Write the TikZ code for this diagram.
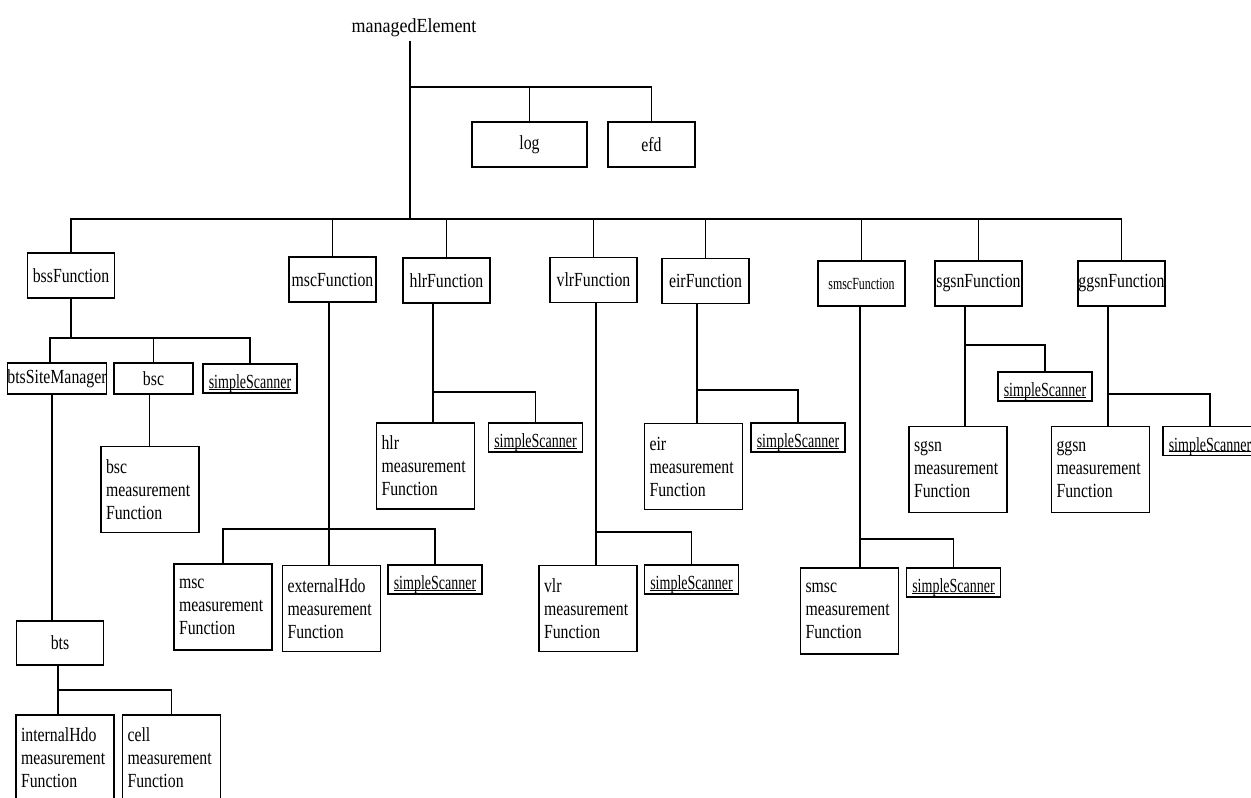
\documentclass[tikz,border=0pt]{standalone}
\usepackage{fontspec}
\setmainfont{Liberation Serif}
\newfontfamily\rootfont{Liberation Serif}[FakeStretch=0.9]
\newfontfamily\boxfont{Liberation Serif}[FakeStretch=0.79]
\newfontfamily\scanfont{Liberation Serif}[FakeStretch=0.70]
\newcommand\scanlabel{\setbox0\hbox{\scanfont simpleScanner}\rlap{\rule[-1pt]{\wd0}{1pt}}\box0}

\tikzset{
  fnbox/.style={draw, inner sep=0pt, minimum width=87pt, minimum height=45pt,
    font=\boxfont\fontsize{20}{23}\selectfont},
  measbox/.style={draw, inner xsep=5pt, inner ysep=0pt, text width=88pt, align=left,
    minimum height=86pt, font=\boxfont\fontsize{20}{23}\selectfont},
  scanbox/.style={draw, inner xsep=1pt, inner ysep=2pt, minimum width=94pt,
    text height=22.5pt, text depth=2.5pt, font=\fontsize{20}{23}\selectfont}
}

\begin{document}
\begin{tikzpicture}[x=1pt,y=-1pt,line width=1.8pt]
  \useasboundingbox (0,0) rectangle (1251,798);

  % root and its own children
  \node[font=\rootfont\fontsize{20}{23}\selectfont, anchor=base] (me) at (414,32) {managedElement};
  \node[fnbox, minimum width=115pt] (log) at (529.5,144.5) {log};
  \node[fnbox] (efd) at (651.5,144.5) {efd};

  % functions
  \node[fnbox] (bssF) at (71,275.5) {bssFunction};
  \node[fnbox] (mscF) at (332.5,279.5) {mscFunction};
  \node[fnbox] (hlrF) at (446.5,280.5) {hlrFunction};
  \node[fnbox] (vlrF) at (593.5,280) {vlrFunction};
  \node[fnbox] (eirF) at (705.5,281) {eirFunction};
  \node[fnbox, font=\scanfont\fontsize{17}{20}\selectfont] (smscF) at (861.5,283.5) {smscFunction};
  \node[fnbox] (sgsnF) at (978.5,283.5) {sgsnFunction};
  \node[fnbox] (ggsnF) at (1121.5,283.5) {ggsnFunction};

  % bss subtree
  \node[fnbox, minimum width=96pt, minimum height=31pt] (bsm) at (57,378.5) {btsSiteManager};
  \node[fnbox, minimum width=79pt, minimum height=31pt] (bssc) at (153.5,378.5) {bsc};
  \node[scanbox] (bssscan) at (250,378.5) {\scanlabel};
  \node[measbox] (bscmeas) at (150,489.5) {bsc\\measurement\\Function};
  \node[fnbox, minimum height=44pt] (bts) at (60,643) {bts};
  \node[measbox] (ihdo) at (65,758) {internalHdo\\measurement\\Function};
  \node[measbox] (cell) at (171.5,758) {cell\\measurement\\Function};

  % msc subtree
  \node[measbox] (mscmeas) at (223,607) {msc\\measurement\\Function};
  \node[measbox] (exthdo) at (331.5,608.5) {externalHdo\\measurement\\Function};
  \node[scanbox] (mscscan) at (435,579.5) {\scanlabel};

  % hlr, vlr, eir
  \node[measbox] (hlrmeas) at (425.5,466) {hlr\\measurement\\Function};
  \node[scanbox] (hlrscan) at (535.5,437.5) {\scanlabel};
  \node[measbox] (vlrmeas) at (588,608.5) {vlr\\measurement\\Function};
  \node[scanbox] (vlrscan) at (691.5,579.5) {\scanlabel};
  \node[measbox] (eirmeas) at (693.5,466.5) {eir\\measurement\\Function};
  \node[scanbox] (eirscan) at (798,437.5) {\scanlabel};

  % smsc, sgsn, ggsn
  \node[measbox] (smscmeas) at (849.5,611) {smsc\\measurement\\Function};
  \node[scanbox] (smscscan) at (953.5,582.5) {\scanlabel};
  \node[scanbox] (sgsnscan) at (1045,386.5) {\scanlabel};
  \node[measbox] (sgsnmeas) at (958,469.5) {sgsn\\measurement\\Function};
  \node[measbox] (ggsnmeas) at (1100.5,469.5) {ggsn\\measurement\\Function};
  \node[scanbox] (ggsnscan) at (1210,441) {\scanlabel};

  % top level lines
  \coordinate (logbus) at (410,87);
  \coordinate (mebus) at (410,219);
  \draw (me.south -| mebus) -- (mebus);
  \draw (logbus) -| (efd.north);
  \draw (log.north) -- (log.north |- logbus);
  \draw (bssF.north) |- (mebus) -| (ggsnF.north);
  \foreach \n in {mscF,hlrF,vlrF,eirF,smscF,sgsnF} {
    \draw (\n.north) -- (\n.north |- mebus);
  }

  % bss lines
  \coordinate (bssbus) at (71,338);
  \draw (bssF) -- (bssbus);
  \draw ([xshift=-7pt]bsm.north) |- (bssbus) -| (bssscan.north);
  \draw (bssc.north) -- (bssc.north |- bssbus);
  \draw ([xshift=-4pt]bssc.south) -- ([xshift=-4pt]bssc.south |- bscmeas.north);
  \draw ([xshift=-5pt]bsm.south) -- ([xshift=-5pt]bsm.south |- bts.north);
  \coordinate (btsbus) at (58,690);
  \draw (bts.south -| btsbus) -- (btsbus |- ihdo.north);
  \draw (btsbus) -| (cell.north);

  % msc lines
  \coordinate (mscbus) at (329,529);
  \draw (mscF.south -| mscbus) -- (mscbus |- exthdo.north);
  \draw (mscmeas.north) |- (mscbus) -| (mscscan.north);

  % hlr lines
  \coordinate (hlrbus) at (433,392);
  \draw (hlrF.south -| hlrbus) -- (hlrbus |- hlrmeas.north);
  \draw (hlrbus) -| (hlrscan.north);

  % vlr lines
  \coordinate (vlrbus) at (596,532);
  \draw (vlrF.south -| vlrbus) -- (vlrbus |- vlrmeas.north);
  \draw (vlrbus) -| (vlrscan.north);

  % eir lines
  \coordinate (eirbus) at (697,390);
  \draw (eirF.south -| eirbus) -- (eirbus |- eirmeas.north);
  \draw (eirbus) -| (eirscan.north);

  % smsc lines
  \coordinate (smscbus) at (860,539);
  \draw (smscF.south -| smscbus) -- (smscbus |- smscmeas.north);
  \draw (smscbus) -| (smscscan.north);

  % sgsn lines
  \coordinate (sgsnbus) at (965,345);
  \draw (sgsnF.south -| sgsnbus) -- (sgsnbus |- sgsnmeas.north);
  \draw (sgsnbus) -| (sgsnscan.north);

  % ggsn lines
  \coordinate (ggsnbus) at (1108,394);
  \draw (ggsnF.south -| ggsnbus) -- (ggsnbus |- ggsnmeas.north);
  \draw (ggsnbus) -| (ggsnscan.north);
\end{tikzpicture}
\end{document}
